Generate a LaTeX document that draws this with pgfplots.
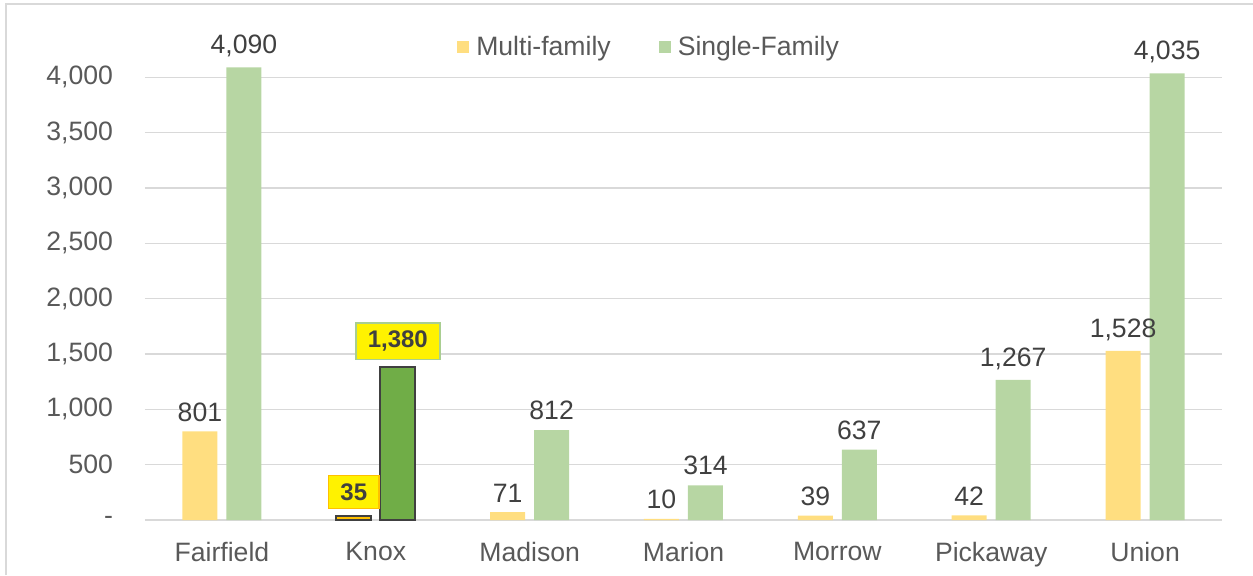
\documentclass[border=0pt]{standalone}
\usepackage{fontspec}
\setmainfont{Liberation Sans}
\usepackage{pgfplots}
\pgfplotsset{compat=1.18}

\definecolor{multi}{HTML}{FFDE80}
\definecolor{single}{HTML}{B7D6A3}
\definecolor{knoxgreen}{HTML}{70AD47}
\definecolor{knoxgold}{HTML}{FFC000}
\definecolor{gridgray}{HTML}{D9D9D9}
\definecolor{ticktext}{HTML}{595959}
\definecolor{labeltext}{HTML}{404040}

\newcommand\lbl{\fontsize{13.3}{15}\selectfont}

\begin{document}
\begin{tikzpicture}
% page = 1253 x 575 px at 0.5pt per px, plot area bottom-left at origin
\useasboundingbox (-72.5pt,-27.5pt) rectangle (554pt,260pt);
\draw[gridgray, line width=0.8pt] (-69.5pt,-27.5pt) -- (-69.5pt,258pt) -- (554pt,258pt);
\begin{axis}[
    at={(0,0)}, anchor=south west,
    scale only axis,
    width=538.5pt, height=249pt,
    ybar, bar width=17.5pt,
    xmin=-0.5, xmax=6.5,
    ymin=0, ymax=4500,
    xtick={0,...,6},
    xticklabels={Fairfield, Knox, Madison, Marion, Morrow, Pickaway, Union},
    ytick={0,500,...,4000},
    yticklabels={{-},{500},{1,000},{1,500},{2,000},{2,500},{3,000},{3,500},{4,000}},
    ymajorgrids,
    grid style={gridgray, line width=0.8pt},
    axis line style={draw=none},
    major tick length=0pt,
    tick label style={font=\lbl, text=ticktext},
    yticklabel style={xshift=-12.5pt},
    xticklabel style={yshift=-7.5pt},
    /pgf/number format/assume math mode=true,
    /pgf/number format/1000 sep={,},
    nodes near coords,
    nodes near coords style={font=\lbl, text=labeltext},
    every node near coord/.append style={yshift=1.5pt},
    legend style={at={(0.469,0.95)}, anchor=center, draw=none, fill=none,
        legend columns=2, font=\lbl, text=ticktext,
        /tikz/every even column/.append style={column sep=22pt}},
    legend image code/.code={\fill[#1] (0pt,-3pt) rectangle (6pt,3pt);},
]

% Multi-family
\addplot[bar shift=-11pt, fill=multi, draw=none]
    coordinates {(0,801) (2,71) (3,10) (4,39) (5,42) (6,1528)};
\addlegendentry{\hspace{1.5pt}Multi-family}

% Single-Family
\addplot[bar shift=11pt, fill=single, draw=none]
    coordinates {(0,4090) (2,812) (3,314) (4,637) (5,1267) (6,4035)};
\addlegendentry{\hspace{1.5pt}Single-Family}

% Knox highlighted
\addplot[bar shift=-11pt, fill=knoxgold, draw=labeltext,
    line width=0.8pt, forget plot,
    nodes near coords style={font=\fontsize{12}{14}\selectfont\bfseries,
        fill=yellow, draw=knoxgold, line width=0.8pt,
        inner xsep=6pt, inner ysep=4pt, text=labeltext, yshift=2pt}]
    coordinates {(1,35)};
\addplot[bar shift=11pt, fill=knoxgreen, draw=labeltext,
    line width=0.8pt, forget plot,
    nodes near coords style={font=\fontsize{12}{14}\selectfont\bfseries,
        fill=yellow, draw=single!80!knoxgreen, line width=0.8pt,
        inner xsep=6pt, inner ysep=4pt, text=labeltext, yshift=2pt}]
    coordinates {(1,1380)};
\end{axis}
\end{tikzpicture}
\end{document}
